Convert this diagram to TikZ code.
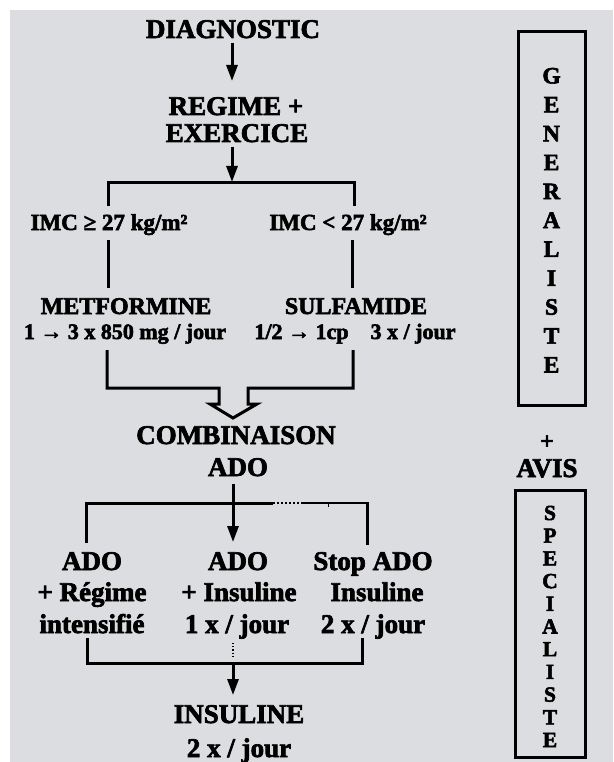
\documentclass[tikz,border=0pt]{standalone}
\usepackage{fontspec}
\setmainfont{Liberation Serif}[BoldFeatures={FakeBold=2.5}]
\usetikzlibrary{arrows.meta}
\definecolor{bg}{RGB}{220,221,224}
\begin{document}
\begin{tikzpicture}[x=1pt,y=-1pt,
  lbl/.style={anchor=base,inner sep=0pt,font=\fontsize{27}{30}\selectfont\bfseries},
  mid/.style={lbl,font=\fontsize{24}{28}\selectfont\bfseries},
  imc/.style={lbl,font=\fontsize{23}{26}\selectfont\bfseries},
  dose/.style={lbl,font=\fontsize{22}{26}\selectfont\bfseries},
  genl/.style={lbl,font=\fontsize{23.5}{26}\selectfont\bfseries},
  specl/.style={lbl,font=\fontsize{21.5}{24}\selectfont\bfseries},
  conn/.style={line width=3pt},
  arr/.style={conn,-{Triangle[width=11pt,length=16pt]}},
  frame/.style={draw,line width=3pt,inner sep=0pt}]
\useasboundingbox (0,0) rectangle (613,762);
\fill[bg] (10,10) rectangle (613,762);

% texts
\node[lbl] (diag) at (233,38) {DIAGNOSTIC};
\node[lbl] (regime) at (236,115) {REGIME +};
\node[lbl] (exer) at (237,142) {EXERCICE};
\node[imc] (imcA) at (109,230) {IMC ≥ 27 kg/m²};
\node[imc] (imcB) at (348,230) {IMC < 27 kg/m²};
\node[mid] (metf) at (126,314) {METFORMINE};
\node[dose] (doseA) at (125,339) {1 → 3 x 850 mg / jour};
\node[mid] (sulf) at (356,314) {SULFAMIDE};
\node[dose] (doseB) at (355,339) {1/2 → 1cp\quad 3 x / jour};
\node[lbl] (comb) at (236,444) {COMBINAISON};
\node[lbl] (ado) at (238,476) {ADO};
\node[lbl] (adoA) at (92,570) {ADO};
\node[lbl] (adoB) at (238,570) {ADO};
\node[lbl] (stop) at (373,570) {Stop ADO};
\node[lbl] (regA) at (92,601) {+ Régime};
\node[lbl] (insB) at (239,601) {+ Insuline};
\node[lbl] (insC) at (377,601) {Insuline};
\node[lbl] (intA) at (92,633) {intensifié};
\node[lbl] (jourB) at (237,633) {1 x / jour};
\node[lbl] (jourC) at (373,633) {2 x / jour};
\node[lbl] (insul) at (239,723) {INSULINE};
\node[lbl] (jourD) at (239,757) {2 x / jour};

% right column
\node[frame,minimum width=67pt,minimum height=373pt] (genbox) at (551.5,218.5) {};
\foreach \l [count=\i from 0] in {G,E,N,E,R,A,L,I,S,T,E}
  \node[genl] (gen\i) at (551.5,83.5+28.9*\i) {\l};
\node[mid] (plus) at (547,449) {+};
\node[lbl] (avis) at (547,477) {AVIS};
\node[frame,minimum width=70pt,minimum height=267pt] (specbox) at (550,623.5) {};
\foreach \l [count=\i from 0] in {S,P,E,C,I,A,L,I,S,T,E}
  \node[specl] (spec\i) at (550,520+22.7*\i) {\l};

% junction coordinates
\coordinate (a1s) at (232,43);
\coordinate (a1e) at (232,81);
\coordinate (a2s) at (232,147);
\coordinate (split) at (232,182);
\coordinate (sL) at (108,182);
\coordinate (sR) at (354,182);
\coordinate (sLd) at (108,206);
\coordinate (sRd) at (354,206);
\coordinate (mL1) at (108,240);
\coordinate (mL2) at (108,288);
\coordinate (mR1) at (352,240);
\coordinate (mR2) at (352,288);
\coordinate (jL) at (107,350);
\coordinate (jR) at (353,350);
\coordinate (a3s) at (233,484);
\coordinate (a3e) at (233,542);
\coordinate (bL) at (86,543);
\coordinate (bR) at (367,543);
\coordinate (cL) at (87,638);
\coordinate (cR) at (362,638);
\coordinate (cM) at (233,663);
\coordinate (a4e) at (233,695);

% connectors
\draw[arr] (a1s) -- (a1e);
\draw[arr] (a2s) -- (split);
\draw[conn] (sLd) -- (sL) -- (sR) -- (sRd);
\draw[conn] (mL1) -- (mL2);
\draw[conn] (mR1) -- (mR2);
\draw[conn] (jL) -- (107,388) -- (219,388) -- (219,404) -- (210,404) -- (233,418)
  -- (257,404) -- (248,404) -- (248,388) -- (353,388) -- (jR);
\draw[arr] (a3s) -- (a3e);
\draw[conn] (bL) -- (86,503) -- (273,503);
\draw[line width=2pt,dotted] (273,503) -- (302,503);
\draw[line width=2pt] (302,503) -- (367,503);
\draw[conn,line cap=rect] (367,503) -- (bR);
\draw[line width=1pt] (328,503) -- (328,507);
\draw[conn] (cL) -- (87,663) -- (362,663) -- (cR);
\draw[line width=1.2pt,dotted] (233,643) -- (233,657);
\draw[arr] (cM) -- (a4e);
\end{tikzpicture}
\end{document}
